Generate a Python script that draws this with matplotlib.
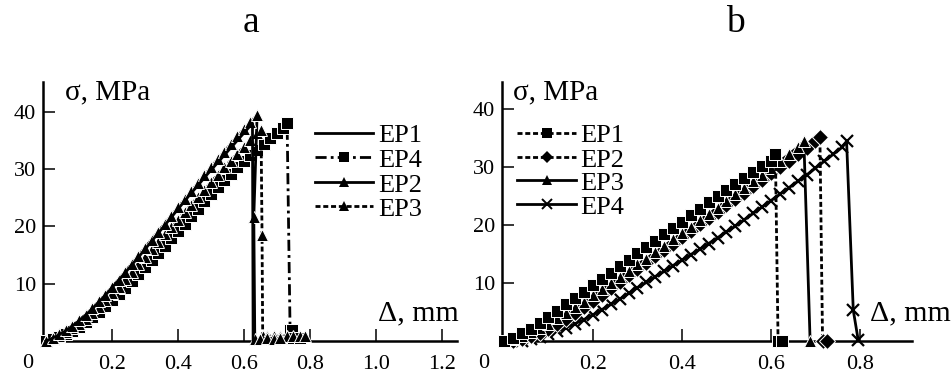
import matplotlib
matplotlib.use("Agg")
import matplotlib.pyplot as plt
import matplotlib.font_manager as fm
from matplotlib.lines import Line2D

# make sure a Times-like serif face is registered
_serif_name = None
for _f in fm.findSystemFonts():
    _b = _f.split('/')[-1]
    if _b.startswith('LiberationSerif'):
        try:
            fm.fontManager.addfont(_f)
            _serif_name = 'Liberation Serif'
        except Exception:
            pass
if _serif_name is None:
    for _f in fm.findSystemFonts():
        _b = _f.split('/')[-1]
        if _b.startswith('DejaVuSerif'):
            try:
                fm.fontManager.addfont(_f)
                _serif_name = 'DejaVu Serif'
            except Exception:
                pass
plt.rcParams['font.family'] = [_serif_name or 'serif', 'DejaVu Sans']

# ---------------- data: panel a ----------------
a_ep1_x = [0.00, 0.02, 0.04, 0.06, 0.08, 0.10, 0.12, 0.14, 0.16, 0.18, 0.20, 0.22, 0.24, 0.26, 0.28, 0.30,
           0.32, 0.34, 0.36, 0.38, 0.40, 0.42, 0.44, 0.46, 0.48, 0.50, 0.52, 0.54, 0.56, 0.58, 0.60, 0.62,
           0.626, 0.628]
a_ep1_y = [0.0, 0.5, 1.1, 1.8, 2.6, 3.5, 4.5, 5.6, 6.8, 8.0, 9.3, 10.6, 11.9, 13.3, 14.6, 16.0,
           17.4, 18.8, 20.2, 21.6, 23.0, 24.4, 25.8, 27.1, 28.5, 29.8, 31.1, 32.4, 33.7, 35.0, 36.3, 37.6,
           38.0, 0.0]

a_ep4_x = [0.00, 0.02, 0.04, 0.06, 0.08, 0.10, 0.12, 0.14, 0.16, 0.18, 0.20, 0.22, 0.24, 0.26, 0.28, 0.30,
           0.32, 0.34, 0.36, 0.38, 0.40, 0.42, 0.44, 0.46, 0.48, 0.50, 0.52, 0.54, 0.56, 0.58, 0.60, 0.62,
           0.64, 0.66, 0.68, 0.70, 0.72, 0.731, 0.740, 0.745, 0.75, 0.77]
a_ep4_y = [0.0, 0.3, 0.7, 1.2, 1.8, 2.5, 3.3, 4.2, 5.1, 6.1, 7.1, 8.2, 9.3, 10.5, 11.7, 12.9,
           14.1, 15.3, 16.6, 17.9, 19.2, 20.5, 21.8, 23.1, 24.4, 25.7, 26.9, 28.1, 29.2, 30.3, 31.4, 32.4,
           33.4, 34.4, 35.4, 36.3, 37.2, 38.0, 1.9, 1.9, 0.5, 0.5]

a_ep2_x = [0.00, 0.02, 0.04, 0.06, 0.08, 0.10, 0.12, 0.14, 0.16, 0.18, 0.20, 0.22, 0.24, 0.26, 0.28, 0.30,
           0.32, 0.34, 0.36, 0.38, 0.40, 0.42, 0.44, 0.46, 0.48, 0.50, 0.52, 0.54, 0.56, 0.58, 0.60, 0.62,
           0.64, 0.630, 0.633, 0.65, 0.67, 0.69, 0.71]
a_ep2_y = [0.0, 0.6, 1.2, 1.9, 2.7, 3.6, 4.6, 5.7, 6.9, 8.1, 9.4, 10.7, 12.1, 13.5, 14.9, 16.3,
           17.7, 19.1, 20.5, 21.9, 23.3, 24.7, 26.1, 27.5, 28.9, 30.3, 31.7, 33.0, 34.4, 35.7, 37.0, 38.2,
           39.4, 21.7, 0.4, 0.4, 0.5, 0.4, 0.5]

a_ep3_x = [0.00, 0.02, 0.04, 0.06, 0.08, 0.10, 0.12, 0.14, 0.16, 0.18, 0.20, 0.22, 0.24, 0.26, 0.28, 0.30,
           0.32, 0.34, 0.36, 0.38, 0.40, 0.42, 0.44, 0.46, 0.48, 0.50, 0.52, 0.54, 0.56, 0.58, 0.60, 0.62,
           0.64, 0.652, 0.655, 0.657, 0.67, 0.69, 0.71, 0.73, 0.75, 0.77, 0.785]
a_ep3_y = [0.0, 0.4, 0.9, 1.5, 2.2, 3.0, 3.9, 4.9, 6.0, 7.1, 8.3, 9.5, 10.8, 12.1, 13.4, 14.7,
           16.0, 17.3, 18.6, 19.9, 21.2, 22.5, 23.8, 25.1, 26.4, 27.7, 29.0, 30.3, 31.5, 32.7, 33.9, 35.1,
           36.3, 36.8, 18.5, 0.8, 0.8, 0.9, 0.8, 0.9, 0.8, 0.9, 0.9]

# ---------------- data: panel b ----------------
b_ep1_x = [0.00, 0.02, 0.04, 0.06, 0.08, 0.10, 0.12, 0.14, 0.16, 0.18, 0.20, 0.22, 0.24, 0.26, 0.28, 0.30,
           0.32, 0.34, 0.36, 0.38, 0.40, 0.42, 0.44, 0.46, 0.48, 0.50, 0.52, 0.54, 0.56, 0.58, 0.60, 0.610,
           0.616, 0.624]
b_ep1_y = [0.0, 0.6, 1.3, 2.1, 3.1, 4.1, 5.2, 6.3, 7.4, 8.5, 9.6, 10.7, 11.8, 12.9, 14.0, 15.1,
           16.2, 17.3, 18.4, 19.5, 20.6, 21.7, 22.8, 23.9, 25.0, 26.1, 27.1, 28.1, 29.1, 30.1, 31.1, 32.2,
           0.0, 0.0]

b_ep2_x = [0.02, 0.04, 0.06, 0.08, 0.10, 0.12, 0.14, 0.16, 0.18, 0.20, 0.22, 0.24, 0.26, 0.28, 0.30,
           0.32, 0.34, 0.36, 0.38, 0.40, 0.42, 0.44, 0.46, 0.48, 0.50, 0.52, 0.54, 0.56, 0.58, 0.60, 0.62,
           0.64, 0.66, 0.68, 0.70, 0.710, 0.716, 0.725]
b_ep2_y = [0.0, 0.3, 0.8, 1.4, 2.1, 2.9, 3.8, 4.8, 5.8, 6.9, 8.0, 9.1, 10.2, 11.3, 12.4,
           13.5, 14.6, 15.7, 16.8, 17.9, 19.0, 20.1, 21.2, 22.3, 23.4, 24.5, 25.6, 26.7, 27.8, 28.9, 30.0,
           31.1, 32.2, 33.3, 34.4, 35.2, 0.0, 0.0]

b_ep3_x = [0.00, 0.02, 0.04, 0.06, 0.08, 0.10, 0.12, 0.14, 0.16, 0.18, 0.20, 0.22, 0.24, 0.26, 0.28, 0.30,
           0.32, 0.34, 0.36, 0.38, 0.40, 0.42, 0.44, 0.46, 0.48, 0.50, 0.52, 0.54, 0.56, 0.58, 0.60, 0.62,
           0.64, 0.66, 0.674, 0.688]
b_ep3_y = [0.0, 0.4, 0.9, 1.5, 2.2, 3.0, 3.9, 4.8, 5.8, 6.8, 7.9, 8.9, 10.0, 11.0, 12.1, 13.2,
           14.2, 15.3, 16.4, 17.5, 18.6, 19.7, 20.8, 21.9, 23.0, 24.2, 25.3, 26.4, 27.6, 28.7, 29.9, 31.0,
           32.2, 33.4, 34.4, 0.0]

b_ep4_x = [0.04, 0.06, 0.08, 0.10, 0.12, 0.14, 0.16, 0.18, 0.20, 0.22, 0.24, 0.26, 0.28, 0.30,
           0.32, 0.34, 0.36, 0.38, 0.40, 0.42, 0.44, 0.46, 0.48, 0.50, 0.52, 0.54, 0.56, 0.58, 0.60, 0.62,
           0.64, 0.66, 0.68, 0.70, 0.72, 0.74, 0.76, 0.770, 0.785, 0.796]
b_ep4_y = [0.0, 0.3, 0.7, 1.2, 1.7, 2.3, 3.0, 3.7, 4.5, 5.4, 6.3, 7.2, 8.2, 9.2,
           10.1, 11.1, 12.0, 13.0, 13.9, 14.9, 15.8, 16.8, 17.8, 18.8, 19.8, 20.9, 22.0, 23.1, 24.2, 25.3,
           26.4, 27.5, 28.6, 29.8, 31.0, 32.2, 33.4, 34.4, 5.3, 0.2]

a_xticks = [0.2, 0.4, 0.6, 0.8, 1.0, 1.2]
a_xticklabels = ["0.2", "0.4", "0.6", "0.8", "1.0", "1.2"]
b_xticks = [0.2, 0.4, 0.6, 0.8]
b_xticklabels = ["0.2", "0.4", "0.6", "0.8"]
yticks = [10, 20, 30, 40]
yticklabels = ["10", "20", "30", "40"]

# ---------------- figure ----------------
W, H = 952, 377
fig = plt.figure(figsize=(W / 100, H / 100), dpi=100)


def rect(l, t, r, b):
    return [l / W, 1 - b / H, (r - l) / W, (b - t) / H]


def fx(px):
    return px / W


def fy(py):
    return 1 - py / H


axA = fig.add_axes(rect(43, 82, 457, 341))
axB = fig.add_axes(rect(502, 82, 912, 341))
axA.set_xlim(-0.009, 1.246)
axA.set_ylim(0, 45.2)
axB.set_xlim(-0.0045, 0.917)
axB.set_ylim(0, 44.65)

for ax in (axA, axB):
    ax.spines['top'].set_visible(False)
    ax.spines['right'].set_visible(False)
    for s in ('left', 'bottom'):
        ax.spines[s].set_linewidth(1.8)
    ax.tick_params(direction='in', length=8.6, width=1.1, labelsize=16)
    ax.tick_params(axis='x', pad=10)
    ax.tick_params(axis='y', pad=5)
    ax.set_yticks(yticks)
    ax.set_yticklabels(yticklabels)
    ax.patch.set_visible(False)

axA.set_xticks(a_xticks)
axA.set_xticklabels(a_xticklabels)
axB.set_xticks(b_xticks)
axB.set_xticklabels(b_xticklabels)

LW = 2.0
ls_short = (0, (1.8, 1.0))
ls_dashdot = (0, (4, 1.5, 1.0, 1.5))

common = dict(color='black', lw=LW, mfc='black', mec='white', mew=0.7, clip_on=False)

# panel a
axA.plot(a_ep4_x, a_ep4_y, linestyle=ls_dashdot, marker='s', ms=8, zorder=3, **common)
axA.plot(a_ep3_x, a_ep3_y, linestyle=ls_short, marker='^', ms=9, zorder=4, **common)
axA.plot(a_ep2_x, a_ep2_y, linestyle='-', marker='^', ms=9, zorder=5, **common)
axA.plot(a_ep1_x, a_ep1_y, linestyle='-', zorder=6, color='black', lw=LW, clip_on=False)

# panel b
axB.plot(b_ep4_x, b_ep4_y, linestyle='-', marker='x', ms=9, zorder=3,
         color='black', lw=LW, mec='black', mew=1.6, clip_on=False)
axB.plot(b_ep2_x, b_ep2_y, linestyle=ls_short, marker='D', ms=8, zorder=4, **common)
axB.plot(b_ep3_x, b_ep3_y, linestyle='-', marker='^', ms=9, zorder=5, **common)
axB.plot(b_ep1_x, b_ep1_y, linestyle=ls_short, marker='s', ms=8, zorder=6, **common)

# origin labels
fig.text(fx(28), fy(364), "0", fontsize=16, ha='center', va='center')
fig.text(fx(484), fy(364), "0", fontsize=16, ha='center', va='center')

# axis labels
fig.text(fx(65), fy(99), "σ, MPa", fontsize=21, ha='left', va='baseline')
fig.text(fx(513), fy(99), "σ, MPa", fontsize=21, ha='left', va='baseline')
fig.text(fx(378), fy(320), "Δ, mm", fontsize=21.5, ha='left', va='baseline')
fig.text(fx(870), fy(320), "Δ, mm", fontsize=21.5, ha='left', va='baseline')

# titles
fig.text(fx(251), fy(32), "a", fontsize=27, ha='center', va='baseline')
fig.text(fx(735), fy(32), "b", fontsize=27, ha='center', va='baseline')


# legends (manual, to match tight spacing)
def legend_row(x0, x1, xt, y, label, ls, marker, ms, mew=0.0):
    xm = (x0 + x1) / 2
    ln = Line2D([fx(x0), fx(xm), fx(x1)], [fy(y)] * 3, transform=fig.transFigure,
                color='black', lw=LW, linestyle=ls)
    fig.add_artist(ln)
    if marker is not None:
        mk = Line2D([fx(xm)], [fy(y)], transform=fig.transFigure, linestyle='none',
                    marker=marker, ms=ms, color='black', mfc='black', mec='black', mew=mew)
        fig.add_artist(mk)
    fig.text(fx(xt), fy(y + 9.5), label, fontsize=19, ha='left', va='baseline')


legA = [("EP1", '-', None, 0), ("EP4", ls_dashdot, 's', 6.5),
        ("EP2", '-', '^', 7.5), ("EP3", ls_short, '^', 7.5)]
for (lab, ls, mk, ms), y in zip(legA, [133, 157, 182, 206]):
    legend_row(315, 373, 378, y, lab, ls, mk, ms)

legB = [("EP1", ls_short, 's', 7), ("EP2", ls_short, 'D', 6.5),
        ("EP3", '-', '^', 7.5), ("EP4", '-', 'x', 7.5)]
for (lab, ls, mk, ms), y in zip(legB, [133, 157, 180, 204]):
    legend_row(517, 576, 580, y, lab, ls, mk, ms, mew=(1.4 if mk == 'x' else 0.0))

fig.savefig("out.png", dpi=100)
